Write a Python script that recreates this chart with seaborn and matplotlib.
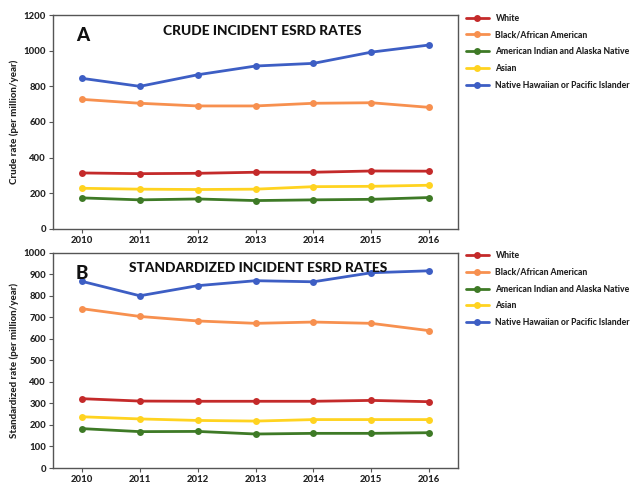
import numpy as np
import pandas as pd
import matplotlib
matplotlib.use("Agg")
import matplotlib.pyplot as plt
import seaborn as sns

years = [2010, 2011, 2012, 2013, 2014, 2015, 2016]
groups = ["White", "Black/African American", "American Indian and Alaska Native",
          "Asian", "Native Hawaiian or Pacific Islander"]
colors = ["#C42A2A", "#F7904F", "#3E7A26", "#FFD320", "#3D5EC4"]

crude_white = [314, 310, 312, 318, 318, 325, 324]
crude_black = [727, 705, 690, 690, 705, 708, 682]
crude_aian = [174, 163, 168, 159, 163, 166, 176]
crude_asian = [228, 223, 221, 223, 237, 239, 245]
crude_nhpi = [845, 800, 865, 914, 929, 992, 1032]

std_white = [322, 311, 310, 310, 310, 314, 308]
std_black = [740, 704, 683, 672, 678, 672, 638]
std_aian = [183, 169, 170, 158, 161, 161, 164]
std_asian = [238, 228, 221, 218, 225, 225, 225]
std_nhpi = [867, 800, 847, 870, 865, 907, 916]

def long_df(series):
    rows = []
    for g, vals in zip(groups, series):
        for i, v in enumerate(vals):
            rows.append({"x": i, "year": years[i], "group": g, "value": v})
    return pd.DataFrame(rows)

df_crude = long_df([crude_white, crude_black, crude_aian, crude_asian, crude_nhpi])
df_std = long_df([std_white, std_black, std_aian, std_asian, std_nhpi])

sns.set_style("white")
plt.rcParams['font.family'] = ['Lato', 'DejaVu Sans']

fig = plt.figure(figsize=(6.35, 4.86), dpi=100)
ax1 = fig.add_axes([0.0835, 0.529, 0.638, 0.440])
ax2 = fig.add_axes([0.0835, 0.037, 0.638, 0.443])

palette = dict(zip(groups, colors))
W = 900

def draw(ax, df, ymax, ystep, ylabel, letter, title, title_x):
    sns.lineplot(data=df, x="x", y="value", hue="group", hue_order=groups,
                 palette=palette, marker="o", markersize=5, markeredgewidth=0,
                 linewidth=2, ax=ax, legend=True)
    ax.set_xlim(-0.5, 6.5)
    ax.set_ylim(0, ymax)
    ax.set_yticks(np.arange(0, ymax + 1, ystep))
    ax.set_xticks(range(len(years)))
    ax.set_xticklabels([str(y) for y in years])
    ax.set_xlabel("")
    ax.set_ylabel(ylabel, fontsize=7, fontweight=W, labelpad=3, color="#222222")
    for lab in ax.get_xticklabels() + ax.get_yticklabels():
        lab.set_fontsize(6.8)
        lab.set_fontweight(W)
        lab.set_color("#222222")
    ax.tick_params(axis="both", length=3, width=0.8, color="#555555", pad=2,
                   direction="out", left=True, bottom=True)
    for s in ax.spines.values():
        s.set_color("#555555")
        s.set_linewidth(1.0)
    ax.text(0.057, 0.945, letter, transform=ax.transAxes, fontsize=13.5,
            fontweight=W, va="top", ha="left", color="#111111")
    ax.text(title_x, 0.955, title, transform=ax.transAxes, fontsize=9.9,
            fontweight=W, va="top", ha="center", color="#111111")
    leg = ax.legend(loc="upper left", bbox_to_anchor=(1.005, 1.035), frameon=False,
                    fontsize=6.2, handlelength=2.6, handletextpad=0.8,
                    labelspacing=0.9, borderaxespad=0.3)
    for t in leg.get_texts():
        t.set_fontweight(W)
        t.set_color("#222222")
    for h in leg.legend_handles:
        h.set_linewidth(2)
        h.set_markersize(5)

draw(ax1, df_crude, 1200, 200, "Crude rate (per million/year)", "A",
     "CRUDE INCIDENT ESRD RATES", 0.516)
draw(ax2, df_std, 1000, 100, "Standardized rate (per million/year)", "B",
     "STANDARDIZED INCIDENT ESRD RATES", 0.506)

fig.savefig("out.png", dpi=100, facecolor="white")
